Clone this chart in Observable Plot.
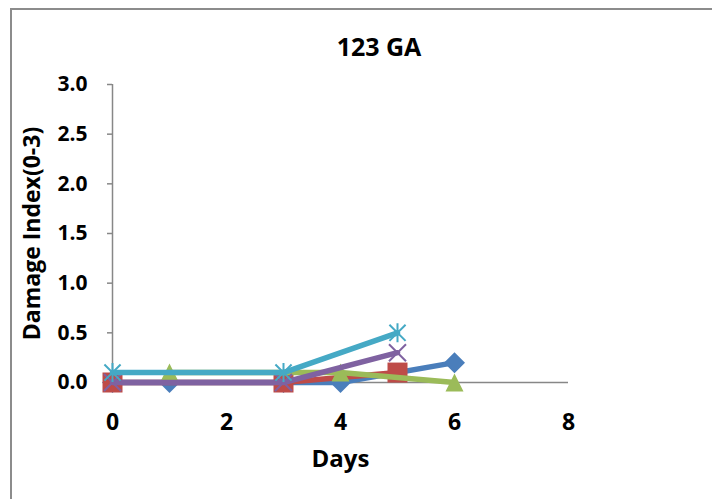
<!DOCTYPE html>
<html>
<head>
<meta charset="utf-8">
<script src="https://cdn.jsdelivr.net/npm/d3@7"></script>
<script src="https://cdn.jsdelivr.net/npm/@observablehq/plot@0.6"></script>
<style>
  html, body { margin: 0; padding: 0; background: #fff; overflow: hidden; }
  #wrap { position: relative; width: 712px; height: 499px; }
  #chart svg { position: absolute; left: 0; top: 0; }
  #frame {
    position: absolute; left: 10px; top: 8px; width: 740px; height: 520px;
    border: 2px solid #8c8c8c; pointer-events: none; box-sizing: border-box;
  }
</style>
</head>
<body>
<div id="wrap">
  <div id="chart"></div>
  <div id="frame"></div>
</div>
<script>
// Damage index readings per treatment series (day → index)
const seriesADays = [0, 1, 3, 4, 6];
const seriesAValues = [0, 0, 0, 0, 0.2];

const seriesBDays = [0, 3, 5];
const seriesBValues = [0, 0, 0.1];

const seriesCDays = [1, 4, 6];
const seriesCValues = [0.1, 0.1, 0];

const seriesDDays = [0, 3, 5];
const seriesDValues = [0, 0, 0.3];

const seriesEDays = [0, 3, 5];
const seriesEValues = [0.1, 0.1, 0.5];

const xTicks = [0, 2, 4, 6, 8];
const yTicks = [0, 0.5, 1, 1.5, 2, 2.5, 3];

const titleText = "123 GA";
const xLabel = "Days";
const yLabel = "Damage Index(0-3)";

const rows = (days, values) => days.map((d, i) => ({day: d, value: values[i]}));

// Marker shapes in the style of spreadsheet charts; r is the half-extent.
const half = (size) => Math.sqrt(size / Math.PI);
const diamond = {draw(c, s) { const r = half(s); c.moveTo(0, -r); c.lineTo(r, 0); c.lineTo(0, r); c.lineTo(-r, 0); c.closePath(); }};
const square = {draw(c, s) { const r = half(s); c.rect(-r, -r, 2 * r, 2 * r); }};
const triangle = {draw(c, s) { const r = half(s); c.moveTo(0, -r); c.lineTo(r, r); c.lineTo(-r, r); c.closePath(); }};
const cross = {draw(c, s) { const r = half(s); c.moveTo(-r, -r); c.lineTo(r, r); c.moveTo(-r, r); c.lineTo(r, -r); }};
const star = {draw(c, s) { const r = half(s); const k = r * 0.85;
  c.moveTo(0, -r); c.lineTo(0, r); c.moveTo(-k, -k); c.lineTo(k, k); c.moveTo(-k, k); c.lineTo(k, -k); }};

const series = [
  {data: rows(seriesADays, seriesAValues), color: "#4a7ebb", symbol: diamond, r: 10.5, filled: true},
  {data: rows(seriesBDays, seriesBValues), color: "#be4b48", symbol: square, r: 10, filled: true},
  {data: rows(seriesCDays, seriesCValues), color: "#9bbb59", symbol: triangle, r: 9, filled: true},
  {data: rows(seriesDDays, seriesDValues), color: "#7f62a1", symbol: cross, r: 8.5, filled: false},
  {data: rows(seriesEDays, seriesEValues), color: "#45a9c5", symbol: star, r: 9.5, filled: false}
];

const axisGray = "#878787";
const font = "'Open Sans', Lato, sans-serif";
const bold = {fontWeight: "bold", fontFamily: font, fill: "black"};

const seriesMarks = series.flatMap((s) => [
  Plot.line(s.data, {x: "day", y: "value", stroke: s.color, strokeWidth: 5.5, strokeLinejoin: "round"}),
  Plot.dot(s.data, {
    x: "day", y: "value", symbol: s.symbol, r: s.r,
    fill: s.filled ? s.color : "none",
    stroke: s.filled ? "none" : s.color,
    strokeWidth: s.filled ? 0 : 2
  })
]);

const chart = Plot.plot({
  width: 712,
  height: 499,
  marginLeft: 112,
  marginRight: 144,
  marginTop: 84,
  marginBottom: 117,
  style: {fontFamily: font, background: "transparent", color: "black"},
  x: {domain: [0, 8], axis: null},
  y: {domain: [0, 3]},
  marks: [
    Plot.ruleY([0], {x1: 0, x2: 8, stroke: axisGray, strokeWidth: 1.5}),
    Plot.ruleX([0], {y1: 0, y2: 3, stroke: axisGray, strokeWidth: 1.5}),
    // y tick marks; their labels are drawn by the text mark below
    Plot.axisY({ticks: yTicks, tickSize: 5, tickFormat: () => "", stroke: axisGray, strokeWidth: 1.5, label: null}),
    Plot.text(yTicks, {
      x: 0, y: (d) => d, text: d3.format(".1f"), textAnchor: "end", dx: -25,
      fontSize: 21, ...bold
    }),
    Plot.text(xTicks, {
      x: (d) => d, y: 0, text: d3.format("d"), dy: 40,
      fontSize: 23, ...bold
    }),
    ...seriesMarks,
    Plot.text([titleText], {frameAnchor: "top", lineAnchor: "middle", dx: 38.5, dy: -36.5, fontSize: 25, ...bold}),
    Plot.text([xLabel], {frameAnchor: "bottom", lineAnchor: "middle", dy: 77, fontSize: 24, ...bold}),
    Plot.text([yLabel], {frameAnchor: "left", textAnchor: "middle", dx: -80, rotate: -90, fontSize: 23, ...bold})
  ]
});

document.getElementById("chart").appendChild(chart);
</script>
</body>
</html>
